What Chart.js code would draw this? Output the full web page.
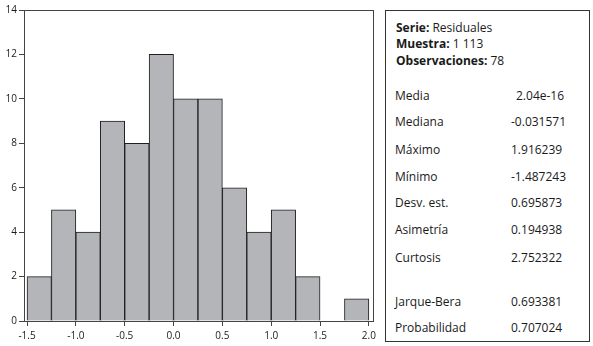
<!DOCTYPE html>
<html>
<head>
<meta charset="utf-8">
<script src="https://cdn.jsdelivr.net/npm/chart.js@4/dist/chart.umd.min.js"></script>
<style>
  html, body { margin: 0; padding: 0; background: #fff; }
  #wrap { position: relative; width: 593px; height: 346px; overflow: hidden; font-family: "Open Sans", "Noto Sans", sans-serif; color: #1a1a1a; }
  #c { position: absolute; left: 0; top: 0; }
  #panel { position: absolute; left: 385px; top: 10px; width: 205px; height: 332px; border: 1px solid #333; box-sizing: border-box; }
  .t { position: absolute; font-size: 12px; line-height: 14px; white-space: nowrap; }
  .t b { font-weight: 700; }
</style>
</head>
<body>
<div id="wrap">
  <canvas id="c" width="380" height="346"></canvas>
  <div id="panel"></div>
</div>
<script>
// Histogram bins (centers) and counts
const binCenters = [-1.375, -1.125, -0.875, -0.625, -0.375, -0.125, 0.125, 0.375, 0.625, 0.875, 1.125, 1.375, 1.625, 1.875];
const binCounts  = [2, 5, 4, 9, 8, 12, 10, 10, 6, 4, 5, 2, 0, 1];
const xTickValues = [-1.5, -1.0, -0.5, 0.0, 0.5, 1.0, 1.5, 2.0];
const yTickValues = [0, 2, 4, 6, 8, 10, 12, 14];

// Statistics panel
const headerKeys = ["Serie:", "Muestra:", "Observaciones:"];
const headerVals = ["Residuales", "1 113", "78"];
const statLabels = ["Media", "Mediana", "Máximo", "Mínimo", "Desv. est.", "Asimetría", "Curtosis", "Jarque-Bera", "Probabilidad"];
const statValues = ["2.04e-16", "-0.031571", "1.916239", "-1.487243", "0.695873", "0.194938", "2.752322", "0.693381", "0.707024"];

const panel = document.getElementById('panel');
const headerY = [28, 44, 61];
headerKeys.forEach((k, i) => {
  const d = document.createElement('div');
  d.className = 't';
  d.style.left = '10px';
  d.style.top = (headerY[i] - 7 - 11) + 'px';
  d.innerHTML = '<b>' + k + '</b> ' + headerVals[i];
  panel.appendChild(d);
});
const statY = [96, 122, 150, 177, 203, 230, 258, 302, 328];
statLabels.forEach((l, i) => {
  const a = document.createElement('div');
  a.className = 't';
  a.style.left = '9px';
  a.style.top = (statY[i] - 7 - 11) + 'px';
  a.textContent = l;
  panel.appendChild(a);
  const b = document.createElement('div');
  b.className = 't';
  b.style.left = (i === 0 ? 130 : 125) + 'px';
  b.style.top = (statY[i] - 7 - 11) + 'px';
  b.textContent = statValues[i];
  panel.appendChild(b);
});

const frame = {
  id: 'frame',
  afterDraw(chart) {
    const a = chart.chartArea, ctx = chart.ctx;
    ctx.save();
    ctx.strokeStyle = '#444';
    ctx.lineWidth = 1;
    ctx.strokeRect(Math.round(a.left) + 0.5, Math.round(a.top) + 0.5, Math.round(a.right - a.left), Math.round(a.bottom - a.top));
    ctx.restore();
  }
};

new Chart(document.getElementById('c'), {
  type: 'bar',
  data: {
    datasets: [{
      data: binCenters.map((x, i) => ({ x: x, y: binCounts[i] })),
      backgroundColor: '#b4b5b9',
      borderColor: '#1e1e1e',
      borderWidth: 1,
      borderSkipped: 'start',
      barPercentage: 1.0,
      categoryPercentage: 1.0
    }]
  },
  options: {
    responsive: false,
    animation: false,
    layout: { padding: { top: 10, right: 7, left: 0, bottom: 0 } },
    plugins: { legend: { display: false }, tooltip: { enabled: false } },
    scales: {
      x: {
        type: 'linear',
        offset: false,
        min: -1.531,
        max: 2.041,
        afterBuildTicks: s => { s.ticks = xTickValues.map(v => ({ value: v })); },
        afterFit: s => { s.height = 25; },
        grid: { offset: false, drawOnChartArea: false, drawTicks: true, tickLength: 5, color: '#444' },
        border: { display: true, color: '#444' },
        ticks: {
          color: '#1a1a1a',
          font: { family: '"Open Sans", "Noto Sans", sans-serif', size: 10 },
          padding: 4,
          maxRotation: 0,
          autoSkip: false,
          callback: v => Number(v).toFixed(1)
        }
      },
      y: {
        min: 0,
        max: 14,
        afterBuildTicks: s => { s.ticks = yTickValues.map(v => ({ value: v })); },
        afterFit: s => { s.width = 24; },
        grid: { drawOnChartArea: false, drawTicks: true, tickLength: 5, color: '#444' },
        border: { display: true, color: '#444' },
        ticks: {
          color: '#1a1a1a',
          font: { family: '"Open Sans", "Noto Sans", sans-serif', size: 10 },
          padding: 2,
          autoSkip: false
        }
      }
    }
  },
  plugins: [frame]
});
</script>
</body>
</html>
